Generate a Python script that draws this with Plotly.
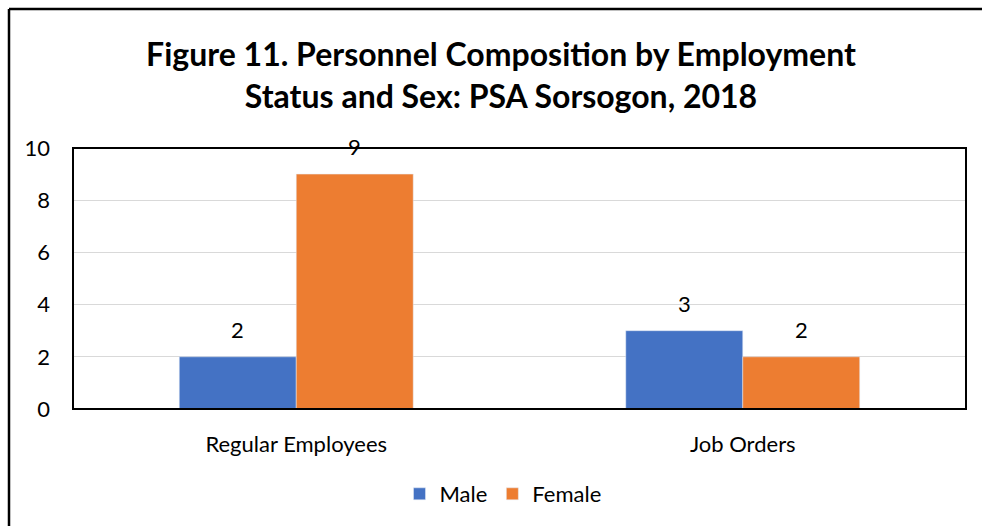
import plotly.graph_objects as go

categories = ["Regular Employees", "Job Orders"]
male = [2, 3]
female = [9, 2]
series_names = ["Male", "Female"]
y_ticks = [0, 2, 4, 6, 8, 10]

W, H = 982, 526
L, R, T, B = 73, 16, 148, 117
pw, ph = W - L - R, H - T - B

fig = go.Figure()
fig.add_trace(go.Bar(name=series_names[0], x=categories, y=male, marker_color="#4472C4"))
fig.add_trace(go.Bar(name=series_names[1], x=categories, y=female, marker_color="#ED7D31"))

FONT = "Lato"
FS = 22
bar_px = pw / len(categories) * (1 - 0.476) / 2
for vals, sign in ((male, -1), (female, 1)):
    for c, v in zip(categories, vals):
        fig.add_annotation(x=c, y=v, xref="x", yref="y", text=str(v), showarrow=False,
                           xshift=sign * bar_px / 2, yanchor="bottom", yshift=12,
                           font=dict(family=FONT, size=FS, color="#000000"))

def px_x(p):
    return (p - L) / pw

def px_y(p):
    return (H - B - p) / ph

shapes = [
    dict(type="rect", xref="paper", yref="paper", x0=0, x1=1, y0=0, y1=1,
         line=dict(color="#000000", width=2), layer="above"),
    dict(type="line", xref="paper", yref="paper", x0=px_x(9), x1=px_x(985), y0=px_y(9), y1=px_y(9),
         line=dict(color="#000000", width=2.5)),
    dict(type="line", xref="paper", yref="paper", x0=px_x(9), x1=px_x(9), y0=px_y(9), y1=px_y(530),
         line=dict(color="#000000", width=2.5)),
]

fig.update_layout(
    width=W, height=H,
    margin=dict(l=L, r=R, t=T, b=B),
    paper_bgcolor="white", plot_bgcolor="white",
    barmode="group", bargap=0.476, bargroupgap=0,
    title=dict(text="Figure 11. Personnel Composition by Employment<br>Status and Sex: PSA Sorsogon, 2018",
               x=501 / W, xanchor="center", y=1 - 66 / H, yanchor="middle",
               font=dict(family=FONT, size=32, color="#000000", weight="bold")),
    font=dict(family=FONT, size=FS, color="#000000"),
    showlegend=True,
    legend=dict(orientation="h", x=503 / W, xref="container", xanchor="center",
                y=1 - 494 / H, yref="container", yanchor="middle",
                font=dict(family=FONT, size=FS, color="#000000"),
                itemwidth=30, traceorder="normal"),
    shapes=shapes,
)
fig.update_xaxes(showgrid=False, showline=True, linecolor="#a6a6a6", linewidth=1,
                 ticks="", ticklabelstandoff=16, tickfont=dict(family=FONT, size=FS))
fig.update_yaxes(range=[0, 10], tickvals=y_ticks, showgrid=True, gridcolor="#d9d9d9", gridwidth=1,
                 zeroline=False, showline=False, ticks="", ticklabelstandoff=22,
                 tickfont=dict(family=FONT, size=FS))

fig.write_html("out.html", config={"displayModeBar": False},
               post_script="document.body.style.margin='0';")
